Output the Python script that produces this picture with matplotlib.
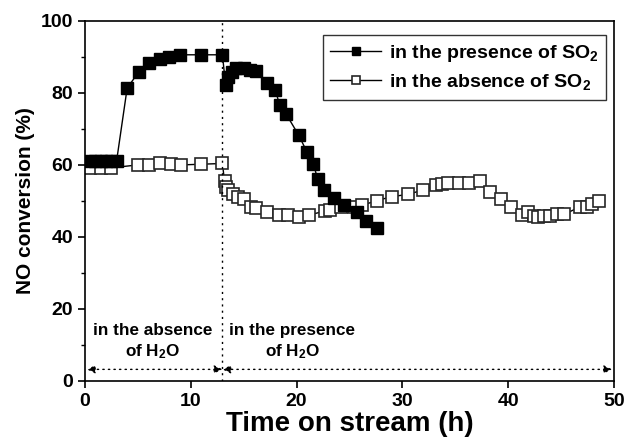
import numpy as np
import matplotlib
matplotlib.use('Agg')
import matplotlib.pyplot as plt
from matplotlib.ticker import MultipleLocator

plt.rcParams['font.family'] = ['Liberation Sans', 'DejaVu Sans']
plt.rcParams['font.weight'] = 'bold'
plt.rcParams['mathtext.default'] = 'regular'

# NO conversion with SO2 present.
t_so2 = [0.5, 1.0, 1.5, 2.0, 2.5, 3.0, 4.0, 5.1, 6.1, 7.1, 8.0, 9.0, 11.0, 13.0,
         13.3, 13.5, 13.9, 14.3, 15.0, 15.6, 16.2, 17.2, 18.0, 18.4, 19.0,
         20.2, 21.0, 21.6, 22.0, 22.6, 23.5, 24.5, 25.7, 26.6, 27.6]
no_so2 = [61.0, 61.0, 61.0, 61.0, 61.0, 61.0, 81.3, 85.9, 88.2, 89.3, 90.1, 90.6, 90.6, 90.6,
          82.2, 84.5, 85.9, 86.8, 86.8, 86.5, 86.1, 82.9, 80.8, 76.7, 74.2,
          68.3, 63.5, 60.2, 56.0, 52.9, 50.9, 48.9, 46.8, 44.5, 42.4]

# NO conversion without SO2.
t_noso2 = [0.5, 1.5, 2.5, 5.0, 6.05, 7.1, 8.1, 9.1, 11.0, 13.0,
           13.2, 13.3, 13.5, 14.0, 14.5, 15.0, 15.7, 16.2, 17.2, 18.3, 19.2,
           20.2, 21.2, 22.7, 23.2, 24.2, 25.4, 26.2, 27.6, 29.0, 30.5, 31.9,
           33.2, 33.7, 34.3, 35.3, 36.3, 37.3, 38.3, 39.3, 40.3, 41.3, 41.9,
           42.4, 42.8, 43.4, 43.9, 44.6, 45.3, 46.8, 47.4, 47.9, 48.6]
no_noso2 = [59.2, 59.2, 59.2, 60.0, 60.0, 60.4, 60.2, 60.0, 60.2, 60.4,
            55.4, 54.0, 53.0, 51.9, 51.2, 50.5, 48.4, 48.0, 47.0, 46.1, 46.1,
            45.6, 46.1, 47.2, 47.5, 48.2, 48.4, 48.8, 50.1, 51.2, 51.8, 53.0,
            54.3, 54.7, 54.9, 54.9, 55.1, 55.6, 52.6, 50.6, 48.2, 46.1, 47.0,
            45.8, 45.6, 45.8, 45.8, 46.3, 46.3, 48.4, 48.4, 49.1, 50.1]

t_switch = 13.0
t_end = 50.0

fig = plt.figure(figsize=(6.28, 4.46), dpi=100)
ax = fig.add_axes([0.135, 0.146, 0.843, 0.807])

ax.plot(t_noso2, no_noso2, '-s', color='black', lw=1.0, ms=8.5,
        mfc='white', mec='#262626', mew=1.2, label='in the absence of SO$_2$')
ax.plot(t_so2, no_so2, '-s', color='black', lw=1.0, ms=8.5,
        mfc='black', mec='black', label='in the presence of SO$_2$')

# Water switch marker and the two periods.
ax.axvline(t_switch, color='black', ls=(0, (1.5, 3)), lw=1.0)
arrow_y = 3.2
arrow = dict(arrowstyle='<|-|>', color='black', lw=1.0, ls=(0, (1, 3)),
             mutation_scale=12, shrinkA=0, shrinkB=0)
ax.annotate('', xy=(0.2, arrow_y), xytext=(t_switch, arrow_y), arrowprops=arrow)
ax.annotate('', xy=(t_switch, arrow_y), xytext=(t_end - 0.2, arrow_y), arrowprops=arrow)

ax.text(6.4, 10.8, 'in the absence\nof H$_2$O', ha='center', va='center',
        fontsize=12.3, fontweight='bold', linespacing=1.25)
ax.text(19.6, 10.8, 'in the presence\nof H$_2$O', ha='center', va='center',
        fontsize=12.3, fontweight='bold', linespacing=1.25)

ax.set_xlim(0, 50)
ax.set_ylim(0, 100)
ax.xaxis.set_major_locator(MultipleLocator(10))
ax.yaxis.set_major_locator(MultipleLocator(20))
ax.yaxis.set_minor_locator(MultipleLocator(10))
ax.tick_params(which='major', direction='out', length=5, width=1.2, labelsize=14)
ax.tick_params(which='minor', direction='out', length=3, width=1.0)
for lbl in ax.get_xticklabels() + ax.get_yticklabels():
    lbl.set_fontweight('bold')
for sp in ax.spines.values():
    sp.set_linewidth(1.2)

ax.set_xlabel('Time on stream (h)', fontsize=20, fontweight='bold', labelpad=1)
ax.set_ylabel('NO conversion (%)', fontsize=15, fontweight='bold', labelpad=4)

handles, labels = ax.get_legend_handles_labels()
leg = ax.legend(handles[::-1], labels[::-1], loc='upper right', fontsize=14,
                markerscale=0.6, handlelength=2.6, frameon=True, fancybox=False,
                borderpad=0.4, labelspacing=0.4, handletextpad=0.4,
                borderaxespad=0, bbox_to_anchor=(0.985, 0.96))
leg.get_frame().set_edgecolor('black')
leg.get_frame().set_linewidth(1.0)
for txt in leg.get_texts():
    txt.set_fontweight('bold')

fig.savefig('out.png', dpi=100)
